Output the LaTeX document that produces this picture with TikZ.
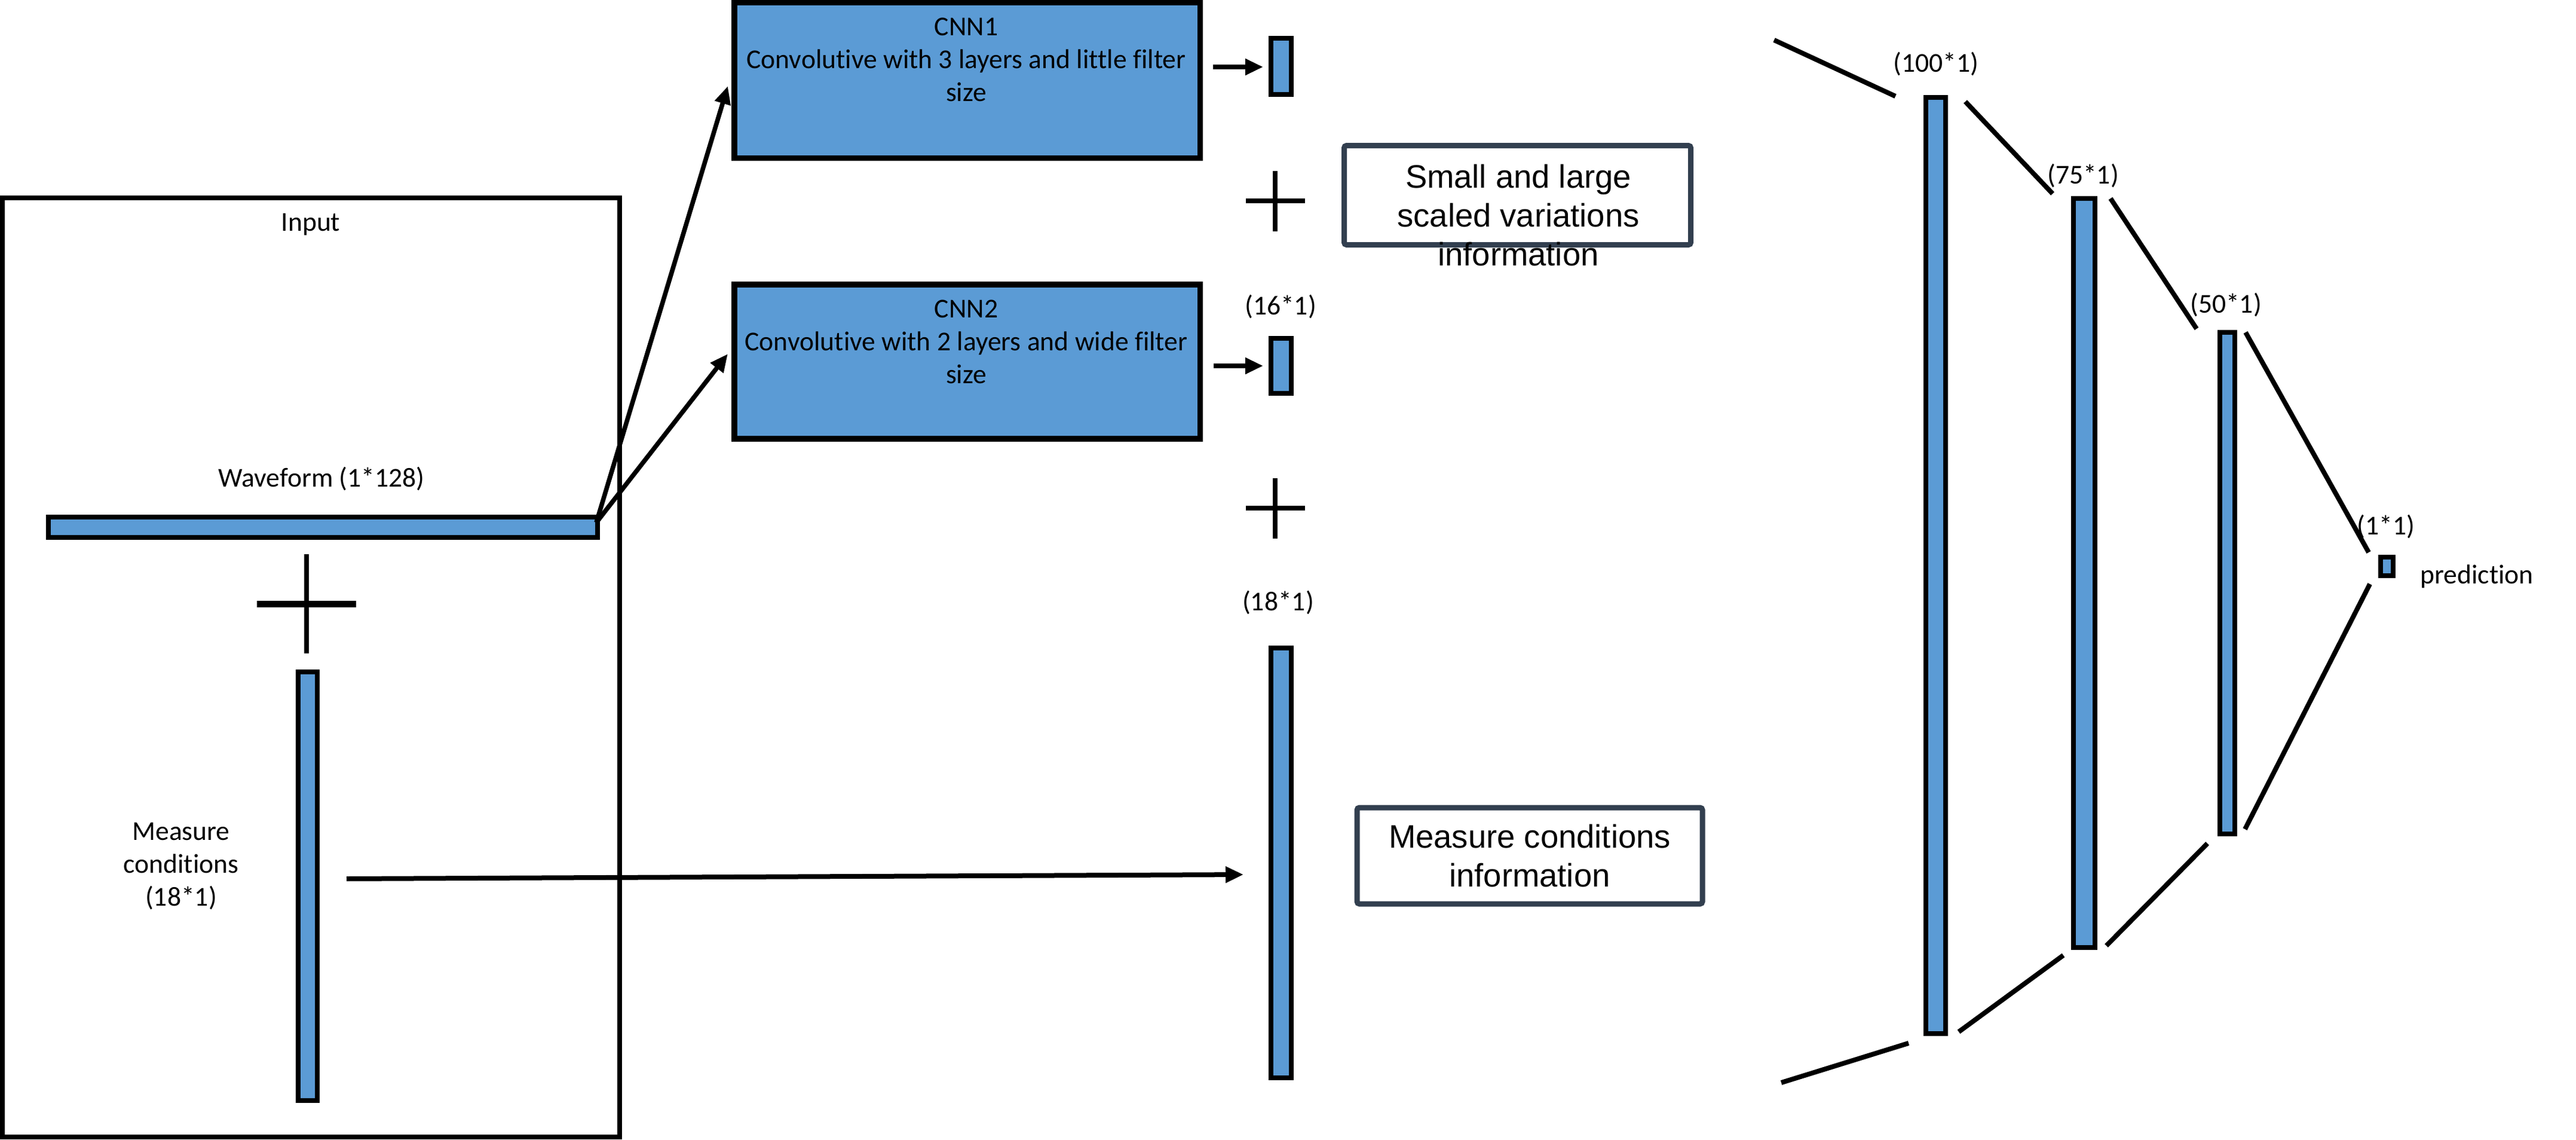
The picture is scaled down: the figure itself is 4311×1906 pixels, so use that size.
\documentclass[tikz,border=0pt]{standalone}
\usepackage{fontspec}
\setmainfont{Carlito}[Ligatures=NoCommon]
\newfontfamily\arialf{Liberation Sans}
\usetikzlibrary{arrows.meta}
\definecolor{barblue}{RGB}{91,155,213}
\definecolor{slate}{RGB}{50,63,79}
\begin{document}
\begin{tikzpicture}[x=0.25pt,y=-0.25pt,
  lab/.style={font=\fontsize{11.4}{13.75}\selectfont, inner sep=0pt, align=center},
  ariallab/.style={font=\arialf\fontsize{13.6}{16.25}\selectfont, inner sep=0pt, align=center},
  box/.style={draw=black, line width=2pt, inner sep=0pt},
  bar/.style={draw=black, fill=barblue, line width=2pt, inner sep=0pt},
  cnnbox/.style={draw=black, fill=barblue, line width=2.4pt, inner sep=0pt},
  infobox/.style={draw=slate, line width=2.25pt, rounded corners=1pt, inner sep=0pt},
  conn/.style={line width=2pt},
  arr/.style={line width=1.9pt, -{Triangle[length=7.5pt,width=6.5pt]}},
  plusline/.style={line width=2pt},
]
\useasboundingbox (0,0) rectangle (4311,1906);

% ---------------- input block ----------------
\node[box, minimum width=258.25pt, minimum height=392.75pt] (inputbox) at (520.5,1116.5) {};
\node[lab] (inputlbl) at (520,376) {Input};
\node[lab] (wavelbl) at (538,801) {Waveform (1*128)};
\node[bar, minimum width=229.75pt, minimum height=8.5pt] (wavebar) at (540,881.5) {};
\draw[line width=2.75pt] (430,1010) -- (596,1010);
\draw[plusline] (513,927) -- (513,1093);
\node[bar, minimum width=8pt, minimum height=179.25pt] (measbar) at (515,1482.5) {};
\node[lab] (measlbl) at (303,1449) {Measure\\conditions\\(18*1)};

% ---------------- CNN blocks ----------------
\node[cnnbox, minimum width=194.875pt, minimum height=65pt] (cnn1) at (1618.75,134.5) {};
\node[lab] (cnn1txt) at (1617,100) {CNN1\\Convolutive with 3 layers and little filter\\size};
\node[cnnbox, minimum width=194.875pt, minimum height=64.5pt] (cnn2) at (1618.75,605) {};
\node[lab] (cnn2txt) at (1617,572) {CNN2\\Convolutive with 2 layers and wide filter\\size};

\coordinate (wsrc) at (998,874);
\coordinate (c1in) at (1218,144);
\coordinate (c2in) at (1218,592);
\draw[arr] (wsrc) -- (c1in);
\draw[arr] (wsrc) -- (c2in);

% ---------------- CNN outputs ----------------
\node[bar, minimum width=8.5pt, minimum height=23.5pt] (out1) at (2144,111) {};
\node[bar, minimum width=8.5pt, minimum height=23pt] (out2) at (2144,612) {};
\coordinate (a1s) at (2030,112);
\coordinate (a1e) at (2114,112);
\coordinate (a2s) at (2031,612);
\coordinate (a2e) at (2114,612);
\draw[arr] (a1s) -- (a1e);
\draw[arr] (a2s) -- (a2e);
\node[lab] (o16) at (2143,513) {(16*1)};

\draw[plusline] (2134,286) -- (2134,387);
\draw[plusline] (2085,336) -- (2184,336);
\draw[plusline] (2134,800) -- (2134,901);
\draw[plusline] (2085,850) -- (2184,850);

\node[lab] (o18) at (2139,1008) {(18*1)};
\node[bar, minimum width=8.5pt, minimum height=179.75pt] (measout) at (2144,1443.5) {};
\coordinate (ms) at (580,1470);
\coordinate (me) at (2081,1463);
\draw[arr, line width=2pt] (ms) -- (me);

% ---------------- info boxes ----------------
\node[infobox, minimum width=145pt, minimum height=41.5pt] (smallbox) at (2539.5,326.5) {};
\node[ariallab] (smalltxt) at (2541,360) {Small and large\\scaled variations\\information};
\node[infobox, minimum width=144.5pt, minimum height=40.25pt, ariallab] (measbox) at (2560,1431.5) {Measure conditions\\information};

% ---------------- fully connected part ----------------
\node[bar, minimum width=8.25pt, minimum height=391.5pt] (fc100) at (3239.5,946) {};
\node[bar, minimum width=9pt, minimum height=313.25pt] (fc75) at (3488,958.5) {};
\node[bar, minimum width=6.25pt, minimum height=209.75pt] (fc50) at (3727.5,975.5) {};
\node[bar, minimum width=5.25pt, minimum height=7.75pt] (pred) at (3994.5,947.5) {};
\node[lab] (l100) at (3240,107) {(100*1)};
\node[lab] (l75) at (3486,294) {(75*1)};
\node[lab] (l50) at (3725,510) {(50*1)};
\node[lab] (l1) at (3993,881) {(1*1)};
\node[lab] (lpred) at (4145,964) {prediction};

\coordinate (t1a) at (2969,67);   \coordinate (t1b) at (3172,161);
\coordinate (t2a) at (3289,170);  \coordinate (t2b) at (3435,324);
\coordinate (t3a) at (3532,332);  \coordinate (t3b) at (3676,550);
\coordinate (t4a) at (3758,556);  \coordinate (t4b) at (3964,924);
\coordinate (b4a) at (3966,977);  \coordinate (b4b) at (3757,1387);
\coordinate (b3a) at (3694,1411); \coordinate (b3b) at (3525,1582);
\coordinate (b2a) at (3453,1598); \coordinate (b2b) at (3278,1726);
\coordinate (b1a) at (3194,1745); \coordinate (b1b) at (2981,1811);
\draw[conn] (t1a) -- (t1b);
\draw[conn] (t2a) -- (t2b);
\draw[conn] (t3a) -- (t3b);
\draw[conn] (t4a) -- (t4b);
\draw[conn] (b4a) -- (b4b);
\draw[conn] (b3a) -- (b3b);
\draw[conn] (b2a) -- (b2b);
\draw[conn] (b1a) -- (b1b);
\end{tikzpicture}
\end{document}
